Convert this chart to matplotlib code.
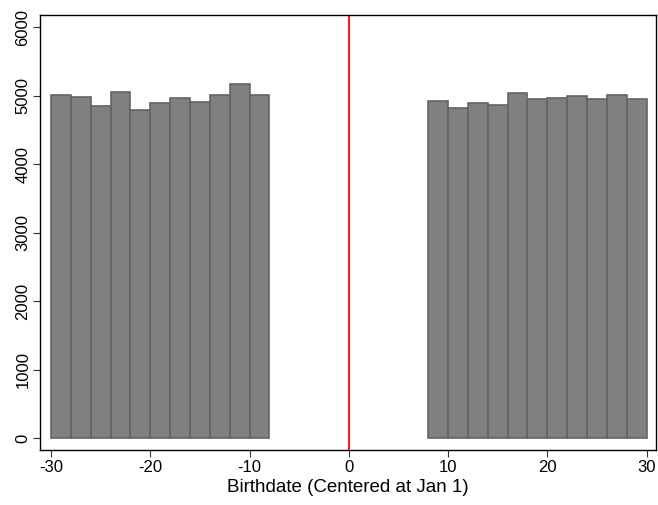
import matplotlib.pyplot as plt
import numpy as np

plt.rcParams['font.family'] = ['Liberation Sans', 'DejaVu Sans']
plt.rcParams['axes.unicode_minus'] = False

# bin left edges (width 2 days) and counts
left_bins = [-30, -28, -26, -24, -22, -20, -18, -16, -14, -12, -10]
left_counts = [5010, 4980, 4855, 5050, 4790, 4890, 4965, 4905, 5010, 5170, 5010]
right_bins = [8, 10, 12, 14, 16, 18, 20, 22, 24, 26, 28]
right_counts = [4925, 4825, 4895, 4865, 5035, 4950, 4965, 4995, 4950, 5010, 4950]
bin_width = 2

fig = plt.figure(figsize=(6.58, 5.05), dpi=100)
ax = fig.add_axes([0.061, 0.109, 0.936, 0.861])

for bins, counts in [(left_bins, left_counts), (right_bins, right_counts)]:
    ax.bar(bins, counts, width=bin_width, align='edge',
           color='#808080', edgecolor='#646464', linewidth=1.2)

ax.axvline(0, color='#ff1a1a', linewidth=1.5)

ax.set_xlim(-31.1, 30.95)
ax.set_ylim(-170, 6175)
ax.set_xticks([-30, -20, -10, 0, 10, 20, 30])
ax.set_yticks([0, 1000, 2000, 3000, 4000, 5000, 6000])
ax.set_yticklabels(['0', '1000', '2000', '3000', '4000', '5000', '6000'],
                   rotation=90, va='center')
ax.tick_params(axis='both', labelsize=12, length=5, width=0.8, color='#333333')
ax.tick_params(axis='y', pad=2)
ax.tick_params(axis='x', pad=2)
ax.set_xlabel('Birthdate (Centered at Jan 1)', fontsize=13.5, labelpad=3)
for s in ax.spines.values():
    s.set_linewidth(1.0)

fig.savefig('out.png', dpi=100)
